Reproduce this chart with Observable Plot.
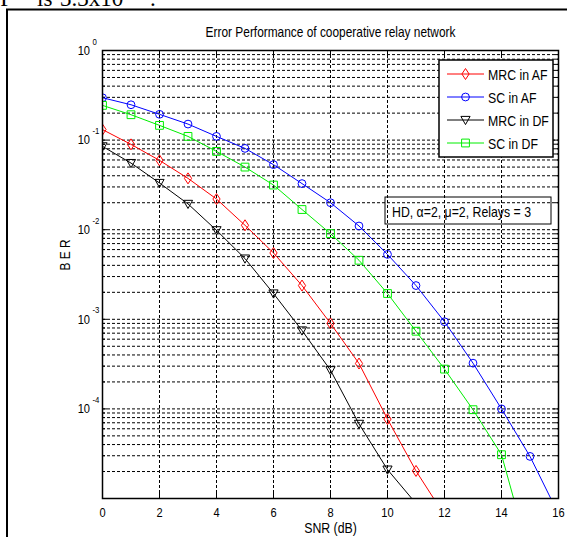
<!DOCTYPE html>
<html>
<head>
<meta charset="utf-8">
<script src="https://cdn.jsdelivr.net/npm/d3@7"></script>
<script src="https://cdn.jsdelivr.net/npm/@observablehq/plot@0.6"></script>
<style>
  html, body { margin: 0; padding: 0; background: white; }
  #wrap { position: relative; width: 567px; height: 537px; overflow: hidden; }
  #wrap svg { position: absolute; left: 0; top: 0; }
</style>
</head>
<body>
<div id="wrap"></div>
<script>
// ---- data ----
const snr = [0,1,2,3,4,5,6,7,8,9,10,11,12,13,14,15,16];
const seriesNames = ["MRC in AF", "SC in AF", "MRC in DF", "SC in DF"];
const seriesColors = ["#ff0000", "#0000ff", "#000000", "#00ee00"];
const mrcAF = [0.131, 0.0896, 0.0594, 0.0374, 0.0220, 0.0112, 0.0055, 0.00238, 0.0009, 0.000321, 7.7e-5, 2.03e-5, 6.5e-6];
const scAF  = [0.297, 0.248, 0.194, 0.151, 0.110, 0.0808, 0.0532, 0.0327, 0.0200, 0.0110, 0.0053, 0.00238, 0.00094, 0.000324, 1.0e-4, 2.95e-5, 6.7e-6];
const mrcDF = [0.0851, 0.0554, 0.0332, 0.0194, 0.00985, 0.00476, 0.00194, 0.00075, 0.00027, 6.8e-5, 2.1e-5, 8.8e-6];
const scDF  = [0.244, 0.192, 0.146, 0.110, 0.0748, 0.050, 0.0315, 0.0168, 0.00904, 0.00456, 0.00194, 0.000736, 0.000278, 9.8e-5, 3.08e-5, 2.2e-6];
const xTicks = [0,2,4,6,8,10,12,14,16];
const xGrid = [2,4,6,8,10,12,14];
const yMajor = [1, 0.1, 0.01, 0.001, 0.0001];
const yExp = ["0", "-1", "-2", "-3", "-4"];
const titleText = "Error Performance of cooperative relay network";
const xLabel = "SNR (dB)";
const yLabel = "B E R";
const noteText = "HD, \u03b1=2, \u03bc=2, Relays = 3";

// ---- marker shapes ----
const sym = {
  diamond: { draw(c) { c.moveTo(0,-5.5); c.lineTo(3.6,0); c.lineTo(0,5.5); c.lineTo(-3.6,0); c.closePath(); } },
  circle:  { draw(c) { c.moveTo(3.9,0); c.arc(0,0,3.9,0,2*Math.PI); c.closePath(); } },
  tri:     { draw(c) { c.moveTo(-4.6,-3.6); c.lineTo(4.6,-3.6); c.lineTo(0,4.6); c.closePath(); } },
  square:  { draw(c) { c.rect(-3.9,-3.9,7.8,7.8); } }
};
const seriesSyms = [sym.diamond, sym.circle, sym.tri, sym.square];
const seriesVals = [mrcAF, scAF, mrcDF, scDF];

const table = [];
seriesVals.forEach((vals, s) => vals.forEach((v, i) => table.push({series: s, snr: snr[i], ber: v})));

// minor log grid values
const yGrid = [];
for (let k = -5; k <= -1; k++) for (let m = 1; m <= 9; m++) yGrid.push(m * Math.pow(10, k));
yGrid.push(1);
const yMinor = yGrid.filter(v => !yMajor.includes(v));

const W = 567, H = 537, ML = 102, MR = 9, MT = 50, MB = 39;
const PW = W - ML - MR, PH = H - MT - MB;
const FONT = "'Liberation Sans', Arial, sans-serif";
const SQUEEZE = 0.82;

const marks = [
  Plot.ruleY(yGrid.filter(v => v > 1e-5 && v < 1), {y: d => d, stroke: "#000", strokeWidth: 1, strokeDasharray: "3,2"}),
  Plot.ruleX(xGrid, {x: d => d, stroke: "#000", strokeWidth: 1, strokeDasharray: "3,2"}),
  // inward ticks
  Plot.tickX(xTicks, {x: d => d, insetTop: PH - 5, stroke: "#000"}),
  Plot.tickX(xTicks, {x: d => d, insetBottom: PH - 5, stroke: "#000"}),
  Plot.tickY(yMajor, {y: d => d, insetRight: PW - 5, stroke: "#000"}),
  Plot.tickY(yMajor, {y: d => d, insetLeft: PW - 5, stroke: "#000"}),
  Plot.tickY(yMinor, {y: d => d, insetRight: PW - 3, stroke: "#000"}),
  Plot.tickY(yMinor, {y: d => d, insetLeft: PW - 3, stroke: "#000"}),
];
seriesVals.forEach((vals, s) => {
  const data = table.filter(d => d.series === s);
  marks.push(Plot.line(data, {x: "snr", y: "ber", stroke: seriesColors[s], strokeWidth: 1, clip: true}));
  marks.push(Plot.dot(data, {x: "snr", y: "ber", symbol: seriesSyms[s], r: 1, stroke: seriesColors[s], fill: "none", strokeWidth: 1, clip: true}));
});
marks.push(
  Plot.frame({stroke: "#000", strokeWidth: 1.5}),
  Plot.text(xTicks, {x: d => d, frameAnchor: "bottom", dy: 14, lineAnchor: "middle", text: d => String(d), fontSize: 13.5, fill: "#000"}),
  Plot.text(yMajor, {y: d => d, frameAnchor: "left", dx: -12.5, textAnchor: "end", lineAnchor: "middle", text: () => "10", fontSize: 13.5, fill: "#000"}),
  Plot.text(yMajor, {y: d => d, frameAnchor: "left", dx: -10, dy: -9, textAnchor: "start", lineAnchor: "middle", text: (d, i) => yExp[i], fontSize: 9.5, fill: "#000"}),
  Plot.text([titleText], {frameAnchor: "top", dy: -18, lineAnchor: "middle", text: d => d, fontSize: 14.5, fill: "#000"}),
  Plot.text([xLabel], {frameAnchor: "bottom", dy: 30, lineAnchor: "middle", text: d => d, fontSize: 15, fill: "#000"}),
  Plot.text([yLabel], {frameAnchor: "left", dx: -37, dy: -4, rotate: -90, lineAnchor: "middle", text: d => d, fontSize: 14.5, fill: "#000"})
);

const chart = Plot.plot({
  width: W, height: H,
  marginLeft: ML, marginRight: MR, marginTop: MT, marginBottom: MB,
  x: {domain: [0, 16], axis: null},
  y: {type: "log", domain: [1e-5, 1], axis: null},
  style: {fontFamily: FONT, background: "white", overflow: "visible"},
  marks
});
document.getElementById("wrap").appendChild(chart);

// ---- overlay: legend, annotation, page frame ----
const ov = d3.select("#wrap").append("svg")
  .attr("width", W).attr("height", H)
  .style("font-family", FONT);

// page frame + clipped text line from the page above
ov.append("rect").attr("x", 7).attr("y", 9.5).attr("width", 700).attr("height", 700)
  .attr("fill", "none").attr("stroke", "#000").attr("stroke-width", 2);
const pageLine = ov.append("g").attr("class", "serif").style("font-family", "'Liberation Serif', 'Times New Roman', serif").attr("font-size", 23).attr("fill", "#000");
pageLine.append("text").attr("x", 13).attr("y", 5.5).attr("text-anchor", "end").text("OP");
pageLine.append("text").attr("x", 37).attr("y", 5.5).text("is");
pageLine.append("text").attr("x", 60).attr("y", 5.5).text("3.3x10");
pageLine.append("text").attr("x", 131).attr("y", -2).attr("font-size", 15).text("-4");
pageLine.append("text").attr("x", 150).attr("y", 5.5).text(".");

// annotation box
ov.append("rect").attr("x", 385).attr("y", 197).attr("width", 166).attr("height", 27)
  .attr("fill", "none").attr("stroke", "#000").attr("stroke-width", 1);
ov.append("text").attr("x", 392).attr("y", 211).attr("dominant-baseline", "central")
  .attr("font-size", 15).attr("fill", "#000").text(noteText);

// legend
const lg = ov.append("g");
lg.append("rect").attr("x", 439).attr("y", 60).attr("width", 114).attr("height", 97)
  .attr("fill", "white").attr("stroke", "#000").attr("stroke-width", 1.5);
const rowY = [74, 97, 120, 143];
seriesNames.forEach((name, s) => {
  const y = rowY[s];
  lg.append("line").attr("x1", 447).attr("x2", 484).attr("y1", y).attr("y2", y)
    .attr("stroke", seriesColors[s]).attr("stroke-width", 1);
  const p = d3.path();
  seriesSyms[s].draw(p);
  lg.append("path").attr("d", p.toString()).attr("transform", `translate(465.5,${y})`)
    .attr("fill", "none").attr("stroke", seriesColors[s]).attr("stroke-width", 1);
  lg.append("text").attr("x", 488).attr("y", y).attr("dominant-baseline", "central")
    .attr("font-size", 15).attr("fill", "#000").text(name);
});

// horizontally condensed sans text, as in the reference
document.querySelectorAll("#wrap text").forEach(t => {
  if (t.closest(".serif")) return;
  const w = t.getComputedTextLength();
  if (w > 0) {
    t.setAttribute("textLength", (w * SQUEEZE).toFixed(2));
    t.setAttribute("lengthAdjust", "spacingAndGlyphs");
  }
});
</script>
</body>
</html>
